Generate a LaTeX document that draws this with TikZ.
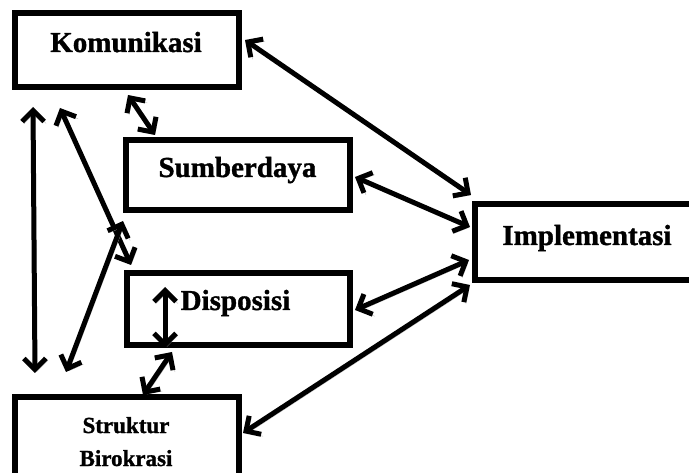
\documentclass[tikz,border=0pt]{standalone}
\usepackage{fontspec}
\setmainfont{Liberation Serif}[BoldFeatures={FakeBold=1.2}]
\usetikzlibrary{arrows.meta}
\begin{document}
\begin{tikzpicture}[x=1pt,y=-1pt,
 box/.style={draw, line width=6pt, inner sep=0pt},
 big/.style={font=\fontsize{29}{34}\selectfont\bfseries, inner sep=0pt, anchor=base},
 small/.style={font=\fontsize{23}{33}\selectfont\bfseries, inner sep=0pt, anchor=base},
 tip/.tip={Straight Barb[length=11pt,width=22pt]},
 link/.style={line width=5pt, tip-tip,
   preaction={draw=gray!55, transform canvas={shift={(2pt,-2pt)}}}},
]
\useasboundingbox (0,0) rectangle (689,473);
\clip (0,0) rectangle (689,473);
% boxes
\node[box, minimum width=224pt, minimum height=74pt] (kom) at (127,50) {};
\node[box, minimum width=224pt, minimum height=70pt] (sum) at (238,175) {};
\node[box, minimum width=226pt, minimum height=76pt] (imp) at (588,242) {};
\node[box, minimum width=223pt, minimum height=72pt] (dis) at (238.5,309) {};
\node[box, minimum width=224pt, minimum height=93pt] (str) at (127,444) {};
% labels
\node[big] (tkom) at (126,52) {Komunikasi};
\node[big] (tsum) at (237.5,177) {Sumberdaya};
\node[big] (timp) at (587,245) {Implementasi};
\node[big] (tdis) at (235.5,310) {Disposisi};
\node[small] (tstr1) at (126,433) {Struktur};
\node[small] (tstr2) at (126,466) {Birokrasi};
% endpoints
\coordinate (a1) at (245,40);   \coordinate (b1) at (471,195);
\coordinate (a2) at (355,177);  \coordinate (b2) at (470,227);
\coordinate (a3) at (355,310);  \coordinate (b3) at (469,260);
\coordinate (a4) at (243,433);  \coordinate (b4) at (470,285);
\coordinate (a5) at (128,95);   \coordinate (b5) at (155,135);
\coordinate (a6) at (33,107);   \coordinate (b6) at (35,373);
\coordinate (a7) at (60,108);   \coordinate (b7) at (131,265);
\coordinate (a8) at (123,221);  \coordinate (b8) at (66,372);
\coordinate (a9) at (165,287);  \coordinate (b9) at (165,348);
\coordinate (a10) at (172,352); \coordinate (b10) at (143,395);
% connectors
\draw[link] (a1) -- (b1);
\draw[link] (a2) -- (b2);
\draw[link] (a3) -- (b3);
\draw[link] (a4) -- (b4);
\draw[link] (a5) -- (b5);
\draw[link] (a6) -- (b6);
\draw[link] (a7) -- (b7);
\draw[link] (a8) -- (b8);
\draw[link] (a9) -- (b9);
\draw[link] (a10) -- (b10);
\end{tikzpicture}
\end{document}
